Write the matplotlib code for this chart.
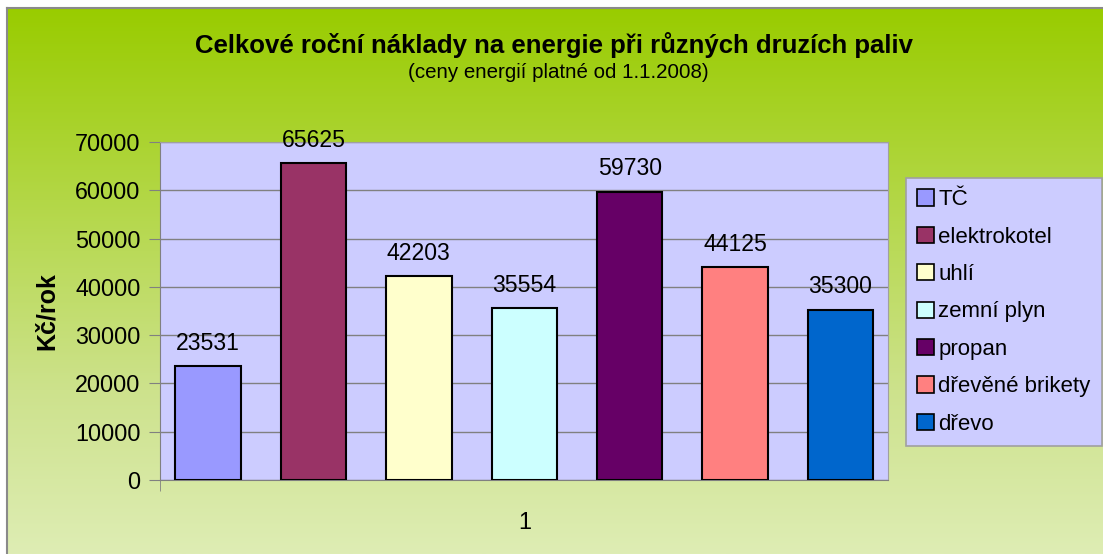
import numpy as np
import matplotlib
matplotlib.use("Agg")
import matplotlib.pyplot as plt
from matplotlib.patches import Rectangle

categories = ["TČ", "elektrokotel", "uhlí", "zemní plyn", "propan", "dřevěné brikety", "dřevo"]
values = [23531, 65625, 42203, 35554, 59730, 44125, 35300]
colors = ["#9999FF", "#993366", "#FFFFCC", "#CCFFFF", "#660066", "#FF8080", "#0066CC"]
yticks = [0, 10000, 20000, 30000, 40000, 50000, 60000, 70000]
xtick_label = "1"
title = "Celkové roční náklady na energie při různých druzích paliv"
subtitle = "(ceny energií platné od 1.1.2008)"
ylabel = "Kč/rok"

plt.rcParams['font.family'] = ['Liberation Sans', 'DejaVu Sans']

W, H = 1103, 554
fig = plt.figure(figsize=(W / 100, H / 100), dpi=100)
fig.patch.set_facecolor("white")

# background gradient
bg = fig.add_axes([7 / W, 0, 1 - 7 / W, 1 - 8 / H])
bg.set_axis_off()
top = np.array([153, 204, 0]) / 255
mid = np.array([205, 226, 140]) / 255
bot = np.array([222, 237, 180]) / 255
n = 256
t = np.linspace(0, 1, n)
grad = np.zeros((n, 1, 3))
for i, tt in enumerate(t):
    if tt < 0.7:
        f = tt / 0.7
        grad[i, 0] = top * (1 - f) + mid * f
    else:
        f = (tt - 0.7) / 0.3
        grad[i, 0] = mid * (1 - f) + bot * f
bg.imshow(grad, aspect="auto", extent=[0, 1, 0, 1])
bg.set_xlim(0, 1)
bg.set_ylim(0, 1)
fig.add_artist(plt.Line2D([7 / W, 7 / W], [0, 1 - 8 / H], color="#8a8a8a", lw=1.5))
fig.add_artist(plt.Line2D([7 / W, 1], [1 - 8 / H, 1 - 8 / H], color="#8a8a8a", lw=1.5))

# plot area
x0, x1 = 160, 888
y0, y1 = 142, 480
ax = fig.add_axes([x0 / W, 1 - y1 / H, (x1 - x0) / W, (y1 - y0) / H])
ax.set_facecolor("#CCCCFF")
xs = np.arange(len(values))
ax.bar(xs, values, width=0.62, color=colors, edgecolor="black", linewidth=1.5, zorder=3)
ax.set_xlim(-0.456, 6.451)
ax.set_ylim(0, 70000)
ax.set_yticks(yticks)
ax.set_yticklabels([str(v) for v in yticks], fontsize=16.8)
ax.yaxis.grid(True, color="#808080", linewidth=1, zorder=1)
ax.tick_params(axis="y", length=8, color="#808080", pad=6)
ax.set_xticks([3])
ax.set_xticklabels([xtick_label], fontsize=16.8)
ax.tick_params(axis="x", length=0, pad=22)
ax.set_xticks([-0.456], minor=True)
ax.tick_params(axis="x", which="minor", length=8, color="#808080")
for s in ["top", "right"]:
    ax.spines[s].set_color("#A0A0A0")
for s in ["left", "bottom"]:
    ax.spines[s].set_color("#808080")
ax.set_ylabel(ylabel, fontsize=18, fontweight="bold", labelpad=12)
for xi, v in zip(xs, values):
    ax.annotate(str(v), (xi, v), xytext=(0, 8), textcoords="offset points",
                ha="center", va="bottom", fontsize=16.6)

# titles
fig.text(554 / W, 1 - 45 / H, title, ha="center", va="center",
         fontsize=18.5, fontweight="bold")
fig.text(558 / W, 1 - 73 / H, subtitle, ha="center", va="center", fontsize=14.8)

# legend
handles = [Rectangle((0, 0), 1, 1, facecolor=c, edgecolor="black", linewidth=1.2) for c in colors]
leg = fig.legend(handles, categories, loc="upper left",
                 bbox_to_anchor=(906 / W, 1 - 178 / H), fontsize=16,
                 frameon=True, fancybox=False, handlelength=0.75, handleheight=0.75,
                 handletextpad=0.2, labelspacing=0.74, borderpad=0.5, borderaxespad=0)
leg.get_frame().set_facecolor("#CCCCFF")
leg.get_frame().set_edgecolor("#A0A0A0")
leg.get_frame().set_linewidth(1.2)
leg.get_frame().set_alpha(1)

fig.savefig("out.png", dpi=100)
